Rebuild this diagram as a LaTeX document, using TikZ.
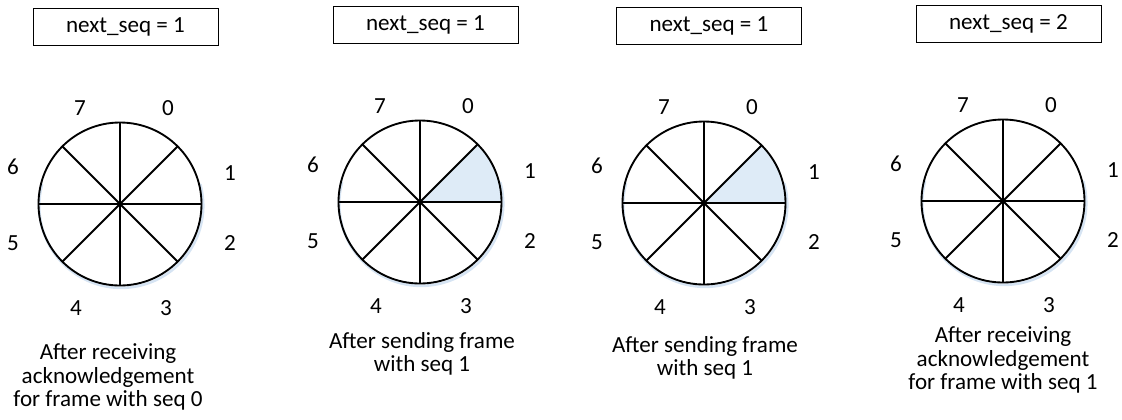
\documentclass[tikz,border=0pt]{standalone}
\usepackage{fontspec}
\setmainfont{Carlito}
\usetikzlibrary{calc}
\definecolor{sentblue}{RGB}{222,235,247}
\definecolor{haze}{RGB}{214,228,243}
\begin{document}
\begin{tikzpicture}[x=0.75pt,y=-0.75pt,
  every node/.style={font=\fontsize{17.3}{17.4}\selectfont, inner sep=0pt},
  counterbox/.style={draw, line width=0.75pt, minimum width=138.75pt, minimum height=27.75pt},
  wheel/.style={circle, draw, line width=1.4pt, minimum size=122.25pt, outer sep=0pt},
  spoke/.style={line width=1.4pt},
  wheelshadow/.style={draw=haze, line width=2pt, line cap=round},
  caption/.style={align=center},
  sentfill/.style={fill=sentblue}]
\useasboundingbox (0,0) rectangle (1122,419);

% soft halo along the lower rim of each wheel
\foreach \cx/\cy in {120/204, 420/202, 704/203, 1003/201}{
  \draw[wheelshadow] (\cx+1.2,\cy+1.8) ++(-15:82) arc[start angle=-15,end angle=195,radius=82];
}
% slot 1 is outstanding in the two middle states
\foreach \cx/\cy in {420/202, 704/203}{
  \fill[sentfill] (\cx,\cy) -- ++(81.5,0) arc[start angle=0,end angle=-45,radius=81.5] -- cycle;
}
% sequence-number wheels: name / centre x / centre y
\foreach \p/\cx/\cy in {a/120/204, b/420/202, c/704/203, d/1003/201}{
  \node[wheel] (\p-w) at (\cx,\cy) {};
  \foreach \a in {0,45,...,315}
    \draw[spoke] (\p-w.center) -- (\p-w.\a);
  \foreach \n/\dx/\dy in {0/48/-96, 1/110/-31, 2/110/39, 3/46/104,
                          4/-44/104, 5/-107/39, 6/-107/-37, 7/-40/-96}
    \node (\p-n\n) at ($(\p-w.center)+(\dx,\dy)$) {\n};
}

% next_seq counters
\node[counterbox] (a-box) at (125.5,26.5) {next\_seq = 1};
\node[counterbox] (b-box) at (425.5,25) {next\_seq = 1};
\node[counterbox] (c-box) at (709,25.5) {next\_seq = 1};
\node[counterbox] (d-box) at (1008.5,24) {next\_seq = 2};

% state captions
\node[caption] (a-cap) at (108,377) {After receiving\\acknowledgement\\for frame with seq 0};
\node[caption] (b-cap) at (422,354) {After sending frame\\with seq 1};
\node[caption] (c-cap) at (705,358) {After sending frame\\with seq 1};
\node[caption] (d-cap) at (1003,360) {After receiving\\acknowledgement\\for frame with seq 1};
\end{tikzpicture}
\end{document}
